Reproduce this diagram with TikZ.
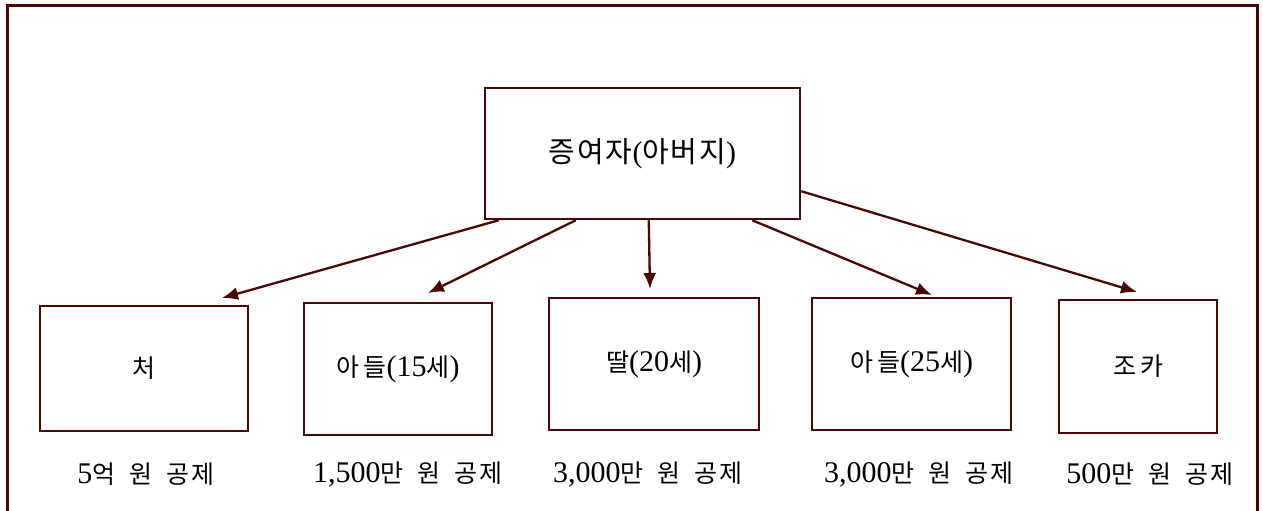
\documentclass[tikz,border=0pt]{standalone}
\usepackage{fontspec}
\setmainfont{Liberation Serif}
\newfontfamily\krtop[LetterSpace=6]{Noto Sans CJK KR}
\newfontfamily\krbox[LetterSpace=16]{Noto Sans CJK KR}
\newfontfamily\krlab[LetterSpace=10]{Noto Sans CJK KR}
\newcommand\hgtop[1]{{\krtop\fontsize{29}{32}\selectfont #1}}
\newcommand\hgbox[1]{{\krbox\fontsize{25}{28}\selectfont #1}}
\newcommand\hglab[1]{{\krlab\fontsize{25}{28}\selectfont\spaceskip=14pt\relax #1}}
\usetikzlibrary{arrows.meta}
\definecolor{frame}{HTML}{4A0505}
\tikzset{
  box/.style={draw=frame, line width=2.5pt, minimum width=#1, inner sep=0pt, font=\fontsize{30}{34}\selectfont},
  arr/.style={draw=frame, line width=2.3pt, -{Latex[length=16pt,width=13pt]}},
  lab/.style={font=\fontsize{30}{34}\selectfont, inner sep=0pt}
}
\begin{document}
\begin{tikzpicture}[x=1pt,y=-1pt]
\useasboundingbox (0,0) rectangle (1263,511);
\begin{scope}
\clip (0,0) rectangle (1263,511);
\draw[frame, line width=3pt] (7,6) rectangle (1257,530);
\end{scope}
\node[box=315pt, minimum height=131pt] (top) at (642.5,153.5) {\hgtop{증여자}(\hgtop{아버지})};
\node[box=208pt, minimum height=125pt] (b1) at (144,368.5) {\hgbox{처}};
\node[box=188pt, minimum height=132pt] (b2) at (398,369) {\hgbox{아들}(15\hgbox{세})};
\node[box=210pt, minimum height=132pt] (b3) at (654,364) {\hgbox{딸}(20\hgbox{세})};
\node[box=199pt, minimum height=132pt] (b4) at (911.5,364) {\hgbox{아들}(25\hgbox{세})};
\node[box=158pt, minimum height=133pt] (b5) at (1138,366.5) {\hgbox{조카}};
\coordinate (t1) at (222,298);
\coordinate (t2) at (428,293);
\coordinate (t3) at (650,289);
\coordinate (t4) at (932,295);
\coordinate (t5) at (1137,292);
\draw[arr] ([xshift=15pt]top.south west) -- (t1);
\draw[arr] ([xshift=92pt]top.south west) -- (t2);
\draw[arr] ([xshift=165pt]top.south west) -- (t3);
\draw[arr] ([xshift=-49pt]top.south east) -- (t4);
\draw[arr] ([yshift=29pt]top.south east) -- (t5);
\node[lab] (l1) at (146,474) {5\hglab{억 원 공제}};
\node[lab] (l2) at (408,474) {1,500\hglab{만 원 공제}};
\node[lab] (l3) at (648,474) {3,000\hglab{만 원 공제}};
\node[lab] (l4) at (919,474) {3,000\hglab{만 원 공제}};
\node[lab] (l5) at (1150,474) {500\hglab{만 원 공제}};
\end{tikzpicture}
\end{document}
